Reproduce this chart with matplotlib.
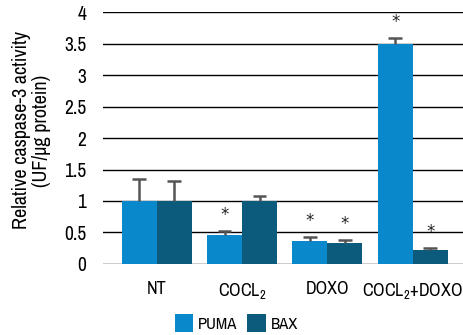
import numpy as np
import matplotlib.pyplot as plt

plt.rcParams["font.family"] = ["Archivo Narrow", "Liberation Sans", "DejaVu Sans"]
plt.rcParams["mathtext.default"] = "regular"

# 数据
groups = ["NT", "COCL$_2$", "DOXO", "COCL$_2$+DOXO"]
puma = [1.0, 0.46, 0.37, 3.50]
puma_err = [0.35, 0.06, 0.06, 0.09]
bax = [1.0, 1.0, 0.34, 0.22]
bax_err = [0.32, 0.08, 0.04, 0.03]
puma_star = [False, True, True, True]
bax_star = [False, False, True, True]
yticks = [0, 0.5, 1, 1.5, 2, 2.5, 3, 3.5, 4]
ytick_labels = ["0", "0.5", "1", "1.5", "2", "2.5", "3", "3.5", "4"]

c_puma = "#0a88cc"
c_bax = "#0d5b7c"
c_err = "#555555"

fig = plt.figure(figsize=(4.64, 3.35), dpi=100)
ax = fig.add_axes([0.222, 0.212, 0.776, 0.752])

x = np.arange(len(groups))
w = 0.41
cap = 0.16
ax.bar(x - w / 2, puma, w, color=c_puma, label="PUMA", zorder=2)
ax.bar(x + w / 2, bax, w, color=c_bax, label="BAX", zorder=2)

# 只画向上的误差线
for xs, vals, errs, flags in [(x - w / 2, puma, puma_err, puma_star),
                              (x + w / 2, bax, bax_err, bax_star)]:
    tops = np.array(vals) + np.array(errs)
    ax.vlines(xs, vals, tops, color=c_err, linewidth=1.8, zorder=3)
    ax.hlines(tops, xs - cap / 2, xs + cap / 2, color=c_err, linewidth=1.8, zorder=3)
    for xi, t, f in zip(xs, tops, flags):
        if f:
            ax.annotate("*", (xi, t), xytext=(0, 5), textcoords="offset points",
                        ha="center", va="bottom", fontsize=12, color="#222222",
                        family="DejaVu Sans")

ax.set_xlim(-0.63, 3.59)
ax.set_ylim(0, 4)
ax.set_yticks(yticks)
ax.set_yticklabels(ytick_labels, fontsize=14)
ax.set_xticks(x)
ax.set_xticklabels(groups, fontsize=13)
ax.tick_params(axis="y", length=0, pad=12)
ax.tick_params(axis="x", length=0, pad=12)
ax.grid(axis="y", color="black", linewidth=1.0, zorder=0)
ax.set_axisbelow(True)
for s in ax.spines.values():
    s.set_visible(False)

ax.set_ylabel("Relative caspase-3 activity\n(UF/µg protein)", fontsize=14.5,
              linespacing=1.05)
ax.yaxis.set_label_coords(-0.145, 0.53)

ax.legend(loc="upper center", bbox_to_anchor=(0.37, -0.14), ncol=2, frameon=False,
          fontsize=12, handlelength=1.1, handleheight=1.3, handletextpad=0.3,
          columnspacing=0.6)

fig.savefig("out.png", dpi=100)
